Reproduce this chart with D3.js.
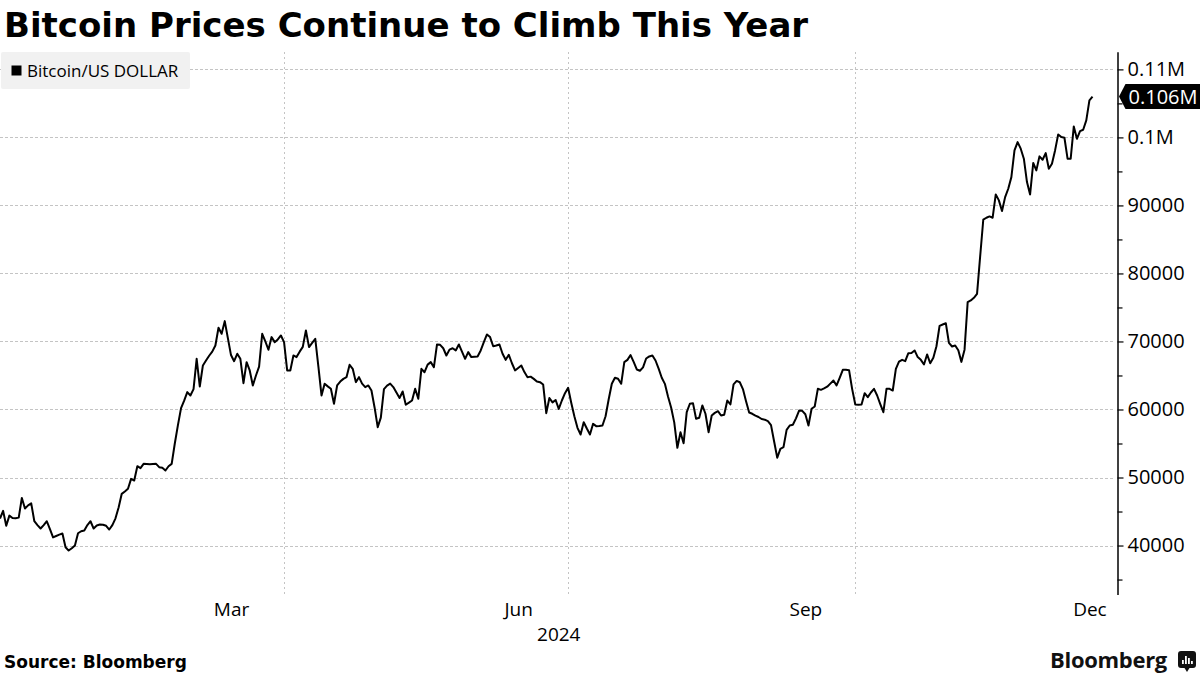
<!DOCTYPE html>
<html>
<head>
<meta charset="utf-8">
<script src="https://cdn.jsdelivr.net/npm/d3@7"></script>
<style>
  html, body { margin: 0; padding: 0; background: #fff; }
  svg { display: block; }
</style>
</head>
<body>
<svg id="chart" width="1200" height="675"></svg>
<script>
// ---- Data: daily Bitcoin/US DOLLAR values, starting 2024-01-01
const startDate = new Date(2024, 0, 1);
const jan = [43970, 45100, 42900, 44400, 44050, 44000, 44100, 47000, 45450, 45900,
             46200, 43570, 43000, 42500, 43000, 43570, 42400, 41200, 41400, 41600,
             41760, 39750, 39260, 39600, 40000, 41800, 42100, 42200, 43000, 43570, 42500];
const feb = [42950, 43090, 43050, 42900, 42350, 43000, 44000, 45600, 47600, 47950,
             48340, 49800, 49560, 51660, 51370, 52010, 52000, 51950, 52000, 52010,
             51520, 51420, 51030, 51660, 52010, 55000, 57700, 60200, 61300];
const mar = [62550, 62060, 63000, 67450, 63380, 66470, 67200, 67900, 68500, 69400,
             72010, 71130, 72990, 70500, 68000, 67100, 68190, 67450, 63870, 66960,
             65740, 63530, 65000, 66300, 71130, 70000, 68780, 70640, 69900, 70300, 70880];
const apr = [69900, 65740, 65740, 67940, 67700, 68500, 69200, 71620, 69170, 69800,
             70390, 66300, 62060, 63780, 63400, 63040, 60840, 63530, 64100, 64500,
             64750, 66570, 65980, 64020, 64750, 63800, 63290, 63530, 62790, 60300];
const may = [57400, 58800, 63000, 63500, 63800, 63290, 62500, 61690, 62650, 60700,
             61000, 61320, 63040, 61570, 65980, 65480, 66600, 66960, 66220, 69560,
             69500, 69000, 67940, 68800, 69000, 68680, 69560, 68500, 67450, 68430, 67700];
const jun = [67750, 67800, 68680, 69900, 71030, 70640, 69300, 69400, 69560, 68190,
             67300, 68040, 66800, 65740, 66100, 66470, 65500, 64750, 64830, 64500,
             64100, 64020, 63680, 59460, 61690, 61050, 61400, 60080, 61320, 62400];
const jul = [63190, 61000, 59000, 57300, 56320, 58130, 57200, 56320, 57890, 57550,
             57580, 57650, 59000, 61500, 63780, 64660, 64510, 63780, 66960, 67300,
             68000, 67000, 65880, 65700, 66200, 67500, 67800, 67940, 67200, 66000, 64660];
const aug = [63770, 61900, 60300, 58100, 54370, 56660, 55040, 59600, 60840, 60930,
             58630, 58780, 60590, 59370, 56660, 59120, 59500, 59750, 59120, 59220,
             61320, 60740, 63680, 64200, 64000, 63000, 61200, 59550, 59370, 59100, 58900];
const sep = [58600, 58500, 58300, 57700, 55300, 52900, 54220, 54460, 57010, 57650,
             57750, 58700, 59850, 59800, 59300, 57650, 60100, 60440, 63040, 62890,
             63100, 63350, 63800, 64260, 63530, 64660, 65830, 65830, 65780, 63000];
const oct = [60740, 60690, 60740, 62400, 61810, 62500, 63040, 62060, 60800, 59600,
             63040, 63040, 62790, 65980, 67030, 67300, 67100, 68280, 68300, 68680,
             67700, 67300, 66620, 68090, 66800, 67600, 69300, 72300, 72500, 72690, 69800];
const nov = [69260, 69410, 68700, 67000, 68800, 75780, 76030, 76420, 77000, 82500,
             87900, 88190, 88380, 88190, 91620, 90740, 89170, 91220, 92450, 94160,
             98090, 99310, 98340, 96870, 93430, 91620, 96240, 95150, 97210, 96720];
const dec = [97700, 95400, 96130, 98090, 100440, 100050, 99950, 96870, 96870, 101620,
             99800, 100930, 101130, 102500, 105440, 106000];

const seriesName = "Bitcoin/US DOLLAR";
const yMajorTicks = [40000, 50000, 60000, 70000, 80000, 90000, 100000, 110000];
const yMinorTicks = [35000, 45000, 55000, 65000, 75000, 85000, 95000, 105000];
const monthLabels = ["Mar", "Jun", "Sep", "Dec"];
const monthLabelDates = ["2024-03-15", "2024-06-15", "2024-09-15", "2024-12-15"];
const quarterGridDates = ["2024-04-01", "2024-07-01", "2024-10-01"];
const yearLabel = "2024";
const titleText = "Bitcoin Prices Continue to Climb This Year";
const sourceText = "Source: Bloomberg";

// ---- Build series
const closes = [].concat(jan, feb, mar, apr, may, jun, jul, aug, sep, oct, nov, dec);
const data = closes.map((v, i) => ({ date: d3.timeDay.offset(startDate, i), value: v }));
const parse = s => { const [y, m, d] = s.split("-").map(Number); return new Date(y, m - 1, d); };

// ---- Layout
const plotLeft = 0, plotRight = 1117.5, plotTop = 51.7, plotBottom = 594.5;
const svg = d3.select("#chart");
const FONT = "'Open Sans', 'Noto Sans', sans-serif";

const x = d3.scaleTime()
  .domain([new Date(2024, 0, 1), new Date(2024, 11, 24)])
  .range([plotLeft, plotRight]);
const y = d3.scaleLinear()
  .domain([32800, 112600])
  .range([plotBottom, plotTop]);

// Title
svg.append("text")
  .attr("x", 4).attr("y", 37)
  .attr("font-family", "'DejaVu Sans', sans-serif")
  .attr("font-weight", "bold")
  .attr("font-size", 34)
  .attr("fill", "#000")
  .text(titleText);

// Clip
svg.append("defs").append("clipPath").attr("id", "plotclip")
  .append("rect").attr("x", plotLeft).attr("y", plotTop)
  .attr("width", plotRight - plotLeft).attr("height", plotBottom - plotTop);

// Gridlines
const grid = svg.append("g").attr("stroke", "#c4c4c4").attr("stroke-width", 1)
  .attr("stroke-dasharray", "2.5,2.5").attr("shape-rendering", "crispEdges");
grid.selectAll("line.h").data(yMajorTicks).join("line")
  .attr("class", "h")
  .attr("x1", plotLeft).attr("x2", plotRight - 4)
  .attr("y1", d => Math.round(y(d)) + 0.5).attr("y2", d => Math.round(y(d)) + 0.5);
grid.selectAll("line.v").data(quarterGridDates).join("line")
  .attr("class", "v")
  .attr("x1", d => Math.round(x(parse(d))) + 0.5).attr("x2", d => Math.round(x(parse(d))) + 0.5)
  .attr("y1", plotTop).attr("y2", plotBottom);

// Legend
const legend = svg.append("g");
legend.append("rect").attr("x", 1).attr("y", 52).attr("width", 189).attr("height", 37)
  .attr("rx", 2).attr("fill", "#f1f1f1");
legend.append("rect").attr("x", 11.5).attr("y", 65.5).attr("width", 10).attr("height", 10)
  .attr("fill", "#000");
legend.append("text").attr("x", 27).attr("y", 77)
  .attr("font-family", FONT).attr("font-size", 17).attr("fill", "#000")
  .text(seriesName);

// Line
const line = d3.line().x(d => x(d.date)).y(d => y(d.value));
svg.append("path").datum(data)
  .attr("clip-path", "url(#plotclip)")
  .attr("fill", "none").attr("stroke", "#000").attr("stroke-width", 2)
  .attr("stroke-linejoin", "round")
  .attr("d", line);

// Y axis (right)
const fmtY = v => v >= 100000 ? (v / 1e6) + "M" : d3.format("d")(v);
const yAxisG = svg.append("g").attr("transform", `translate(${plotRight},0)`);
yAxisG.call(d3.axisRight(y).tickValues(yMajorTicks).tickSize(6).tickSizeOuter(0)
  .tickPadding(4).tickFormat(fmtY));
yAxisG.select(".domain").attr("stroke", "#000").attr("stroke-width", 1.5);
yAxisG.selectAll(".tick line").attr("stroke", "#000").attr("stroke-width", 1.2);
yAxisG.selectAll(".tick text").attr("font-family", FONT).attr("font-size", 20).attr("fill", "#000");
const yMinorG = svg.append("g").attr("transform", `translate(${plotRight},0)`);
yMinorG.call(d3.axisRight(y).tickValues(yMinorTicks).tickSize(5).tickFormat(""));
yMinorG.select(".domain").remove();
yMinorG.selectAll(".tick line").attr("stroke", "#000").attr("stroke-width", 1.2);

// X axis labels
const xAxisG = svg.append("g").attr("transform", `translate(0,${plotBottom})`);
xAxisG.call(d3.axisBottom(x).tickValues(monthLabelDates.map(parse)).tickSize(0).tickPadding(8)
  .tickFormat((d, i) => monthLabels[i]));
xAxisG.select(".domain").remove();
xAxisG.selectAll(".tick text").attr("font-family", FONT).attr("font-size", 19).attr("fill", "#000");

// Year label centred on the visible part of the year
const yearStart = new Date(2024, 0, 1), yearEnd = new Date(2025, 0, 1);
const yearCenter = (Math.max(plotLeft, x(yearStart)) + Math.min(plotRight, x(yearEnd))) / 2;
svg.append("text").attr("x", yearCenter).attr("y", 641)
  .attr("text-anchor", "middle")
  .attr("font-family", FONT).attr("font-size", 19).attr("fill", "#000")
  .text(yearLabel);

// Last-value tag
const last = data[data.length - 1];
const ly = y(last.value);
svg.append("path")
  .attr("d", `M${plotRight + 1.5},${ly} L${plotRight + 8},${ly - 12.5} L1200,${ly - 12.5} L1200,${ly + 12.5} L${plotRight + 8},${ly + 12.5} Z`)
  .attr("fill", "#000");
svg.append("text").attr("x", plotRight + 11).attr("y", ly).attr("dy", "0.35em")
  .attr("font-family", FONT).attr("font-size", 20).attr("fill", "#fff")
  .text((last.value / 1e6).toFixed(3) + "M");

// Source
svg.append("text").attr("x", 4).attr("y", 668)
  .attr("font-family", "'DejaVu Sans', sans-serif").attr("font-weight", "bold")
  .attr("font-size", 17).attr("fill", "#000")
  .text(sourceText);

// Bloomberg wordmark + icon
svg.append("text").attr("x", 1167).attr("y", 668).attr("text-anchor", "end")
  .attr("font-family", FONT).attr("font-weight", 700).attr("font-size", 22)
  .attr("letter-spacing", -0.3).attr("fill", "#111")
  .text("Bloomberg");
const icon = svg.append("g").attr("transform", "translate(1178,651)");
icon.append("path")
  .attr("d", "M3,0 H15 Q18,0 18,3 V14 Q18,17 15,17 H11.5 L9,21 L6.5,17 H3 Q0,17 0,14 V3 Q0,0 3,0 Z")
  .attr("fill", "#111");
const bars = [[4, 9, 4], [7, 5, 8], [10, 7, 6], [13, 10, 3]];
icon.selectAll("rect.bar").data(bars).join("rect").attr("class", "bar")
  .attr("x", d => d[0]).attr("y", d => d[1]).attr("width", 1.8).attr("height", d => d[2])
  .attr("fill", "#fff");
</script>
</body>
</html>
